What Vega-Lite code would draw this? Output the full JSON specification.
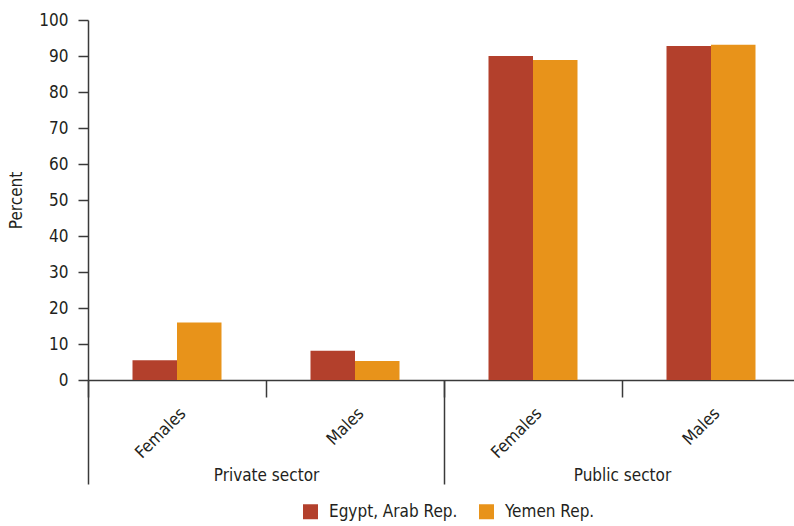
{
  "$schema": "https://vega.github.io/schema/vega-lite/v6.json",
  "autosize": "none",
  "padding": {"left": 88, "top": 20, "right": 0, "bottom": 146},
  "width": 712,
  "height": 360,
  "background": "white",
  "config": {
    "font": "DejaVu Sans Condensed, DejaVu Sans, sans-serif",
    "view": {"stroke": null},
    "axis": {
      "labelFont": "DejaVu Sans Condensed, DejaVu Sans, sans-serif",
      "titleFont": "DejaVu Sans Condensed, DejaVu Sans, sans-serif",
      "labelFontSize": 17,
      "titleFontSize": 17,
      "titleFontWeight": "normal",
      "labelColor": "#231f20",
      "titleColor": "#231f20",
      "domainColor": "#3a3a3a",
      "tickColor": "#3a3a3a",
      "domainWidth": 1.5,
      "tickWidth": 1.5,
      "grid": false
    },
    "legend": {
      "labelFont": "DejaVu Sans Condensed, DejaVu Sans, sans-serif",
      "labelFontSize": 17,
      "labelColor": "#231f20"
    }
  },
  "data": {
    "values": [
      {"sector": "Private sector", "gender": "Females", "group": "Private sector|Females", "country": "Egypt, Arab Rep.", "pct": 5.5},
      {"sector": "Private sector", "gender": "Females", "group": "Private sector|Females", "country": "Yemen Rep.", "pct": 16.0},
      {"sector": "Private sector", "gender": "Males", "group": "Private sector|Males", "country": "Egypt, Arab Rep.", "pct": 8.1},
      {"sector": "Private sector", "gender": "Males", "group": "Private sector|Males", "country": "Yemen Rep.", "pct": 5.3},
      {"sector": "Public sector", "gender": "Females", "group": "Public sector|Females", "country": "Egypt, Arab Rep.", "pct": 90.0},
      {"sector": "Public sector", "gender": "Females", "group": "Public sector|Females", "country": "Yemen Rep.", "pct": 88.9},
      {"sector": "Public sector", "gender": "Males", "group": "Public sector|Males", "country": "Egypt, Arab Rep.", "pct": 92.8},
      {"sector": "Public sector", "gender": "Males", "group": "Public sector|Males", "country": "Yemen Rep.", "pct": 93.1}
    ]
  },
  "layer": [
    {
      "mark": {"type": "bar"},
      "encoding": {
        "x": {
          "field": "group",
          "type": "nominal",
          "scale": {"paddingInner": 0, "paddingOuter": 0},
          "axis": {
            "orient": "bottom",
            "title": null,
            "tickBand": "extent",
            "tickSize": 17,
            "labelAngle": -45,
            "labelPadding": 8,
            "labelExpr": "split(datum.label, '|')[1]"
          }
        },
        "xOffset": {
          "field": "country",
          "type": "nominal",
          "scale": {"paddingInner": 0, "paddingOuter": 1.02}
        },
        "y": {
          "field": "pct",
          "type": "quantitative",
          "scale": {"domain": [0, 100], "nice": false},
          "axis": {
            "title": "Percent",
            "tickCount": 10,
            "tickSize": 10,
            "labelPadding": 10,
            "titlePadding": 13
          }
        },
        "color": {
          "field": "country",
          "type": "nominal",
          "scale": {"domain": ["Egypt, Arab Rep.", "Yemen Rep."], "range": ["#B3402C", "#E8931A"]},
          "legend": {
            "orient": "none",
            "legendX": 214,
            "legendY": 483,
            "direction": "horizontal",
            "title": null,
            "symbolType": "square",
            "symbolSize": 225,
            "symbolStrokeWidth": 0,
            "symbolOpacity": 1,
            "labelOffset": 10,
            "columnPadding": 20,
            "padding": 0
          }
        }
      }
    },
    {
      "mark": {"type": "bar", "opacity": 0},
      "encoding": {
        "x": {
          "field": "sector",
          "type": "nominal",
          "scale": {"paddingInner": 0, "paddingOuter": 0},
          "axis": {
            "orient": "bottom",
            "title": null,
            "domain": false,
            "tickBand": "extent",
            "tickSize": 104,
            "labelAngle": 0,
            "labelPadding": -17,
            "labelBaseline": "top"
          }
        },
        "y": {"field": "pct", "type": "quantitative", "aggregate": "max"}
      }
    }
  ],
  "resolve": {"scale": {"x": "independent"}}
}
